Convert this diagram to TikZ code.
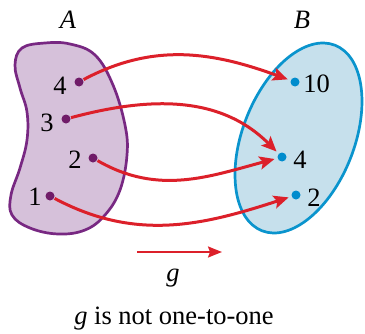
\documentclass[tikz,border=0pt]{standalone}
\usepackage{fontspec}
\setmainfont{Liberation Serif}
\usetikzlibrary{arrows.meta}
\definecolor{aline}{RGB}{120,40,130}
\definecolor{afill}{RGB}{214,193,218}
\definecolor{adot}{RGB}{112,28,104}
\definecolor{bline}{RGB}{10,148,205}
\definecolor{bfill}{RGB}{198,224,236}
\definecolor{bdot}{RGB}{0,140,205}
\definecolor{redarr}{RGB}{220,32,42}
\begin{document}
\begin{tikzpicture}[x=1pt,y=1pt,
  every node/.style={font=\fontsize{26.5}{31}\selectfont, inner sep=0pt},
  adotst/.style={circle, fill=adot, minimum size=9pt, inner sep=0pt},
  bdotst/.style={circle, fill=bdot, minimum size=9pt, inner sep=0pt},
  maparrow/.style={draw=redarr, line width=3pt, -{Stealth[length=15pt,width=13pt,inset=3pt]}, shorten <=0.5pt, shorten >=3pt}]
\useasboundingbox (0,0) rectangle (365,333);
% set A
\draw[aline, line width=2.7pt, fill=afill] plot[smooth cycle, tension=0.65] coordinates {
 (22,285) (45,290) (70,289) (95,278) (113,248) (125,208) (127,178) (120,143) (105,118) (85,103)
 (58,99) (30,105) (12,118) (11,138) (20,165) (27,193) (27,221) (20,245) (15,268)};
% set B
\draw[bline, line width=2.7pt, fill=bfill, rotate around={68.5:(298.5,195)}] (298.5,195) ellipse[x radius=99.7, y radius=55.8];
% set labels
\node (la) at (68,313) {\textit{A}};
\node (lb) at (302,313) {\textit{B}};
% points
\node[adotst] (a4) at (79,251) {};
\node[adotst] (a3) at (66,214) {};
\node[adotst] (a2) at (93,175) {};
\node[adotst] (a1) at (50,137) {};
\node[bdotst] (b10) at (295,251) {};
\node[bdotst] (b4) at (282,176) {};
\node[bdotst] (b2) at (296,138) {};
\node (t4) at (60,247) {4};
\node (t3) at (47,210) {3};
\node (t2) at (75,173) {2};
\node (t1) at (35,136) {1};
\node (t10) at (316.5,249.5) {10};
\node (tb4) at (300,173.5) {4};
\node (tb2) at (314,135.5) {2};
% mapping arrows
\draw[maparrow] (a4) to[out=28,in=160] (b10);
\draw[maparrow] (a3) to[out=15,in=135] (b4);
\draw[maparrow] (a2) to[out=-30,in=195] (b4);
\draw[maparrow] (a1) to[out=-28,in=198] (b2);
% g arrow
\coordinate (gs) at (137,81);
\coordinate (ge) at (222,81);
\draw[draw=redarr, line width=1.9pt, -{Stealth[length=14pt,width=11pt,inset=2pt]}] (gs) -- (ge);
\node (g) at (173,55) {\textit{g}};
\node (cap) at (174,14) {\textit{g} is not one-to-one};
\end{tikzpicture}
\end{document}
